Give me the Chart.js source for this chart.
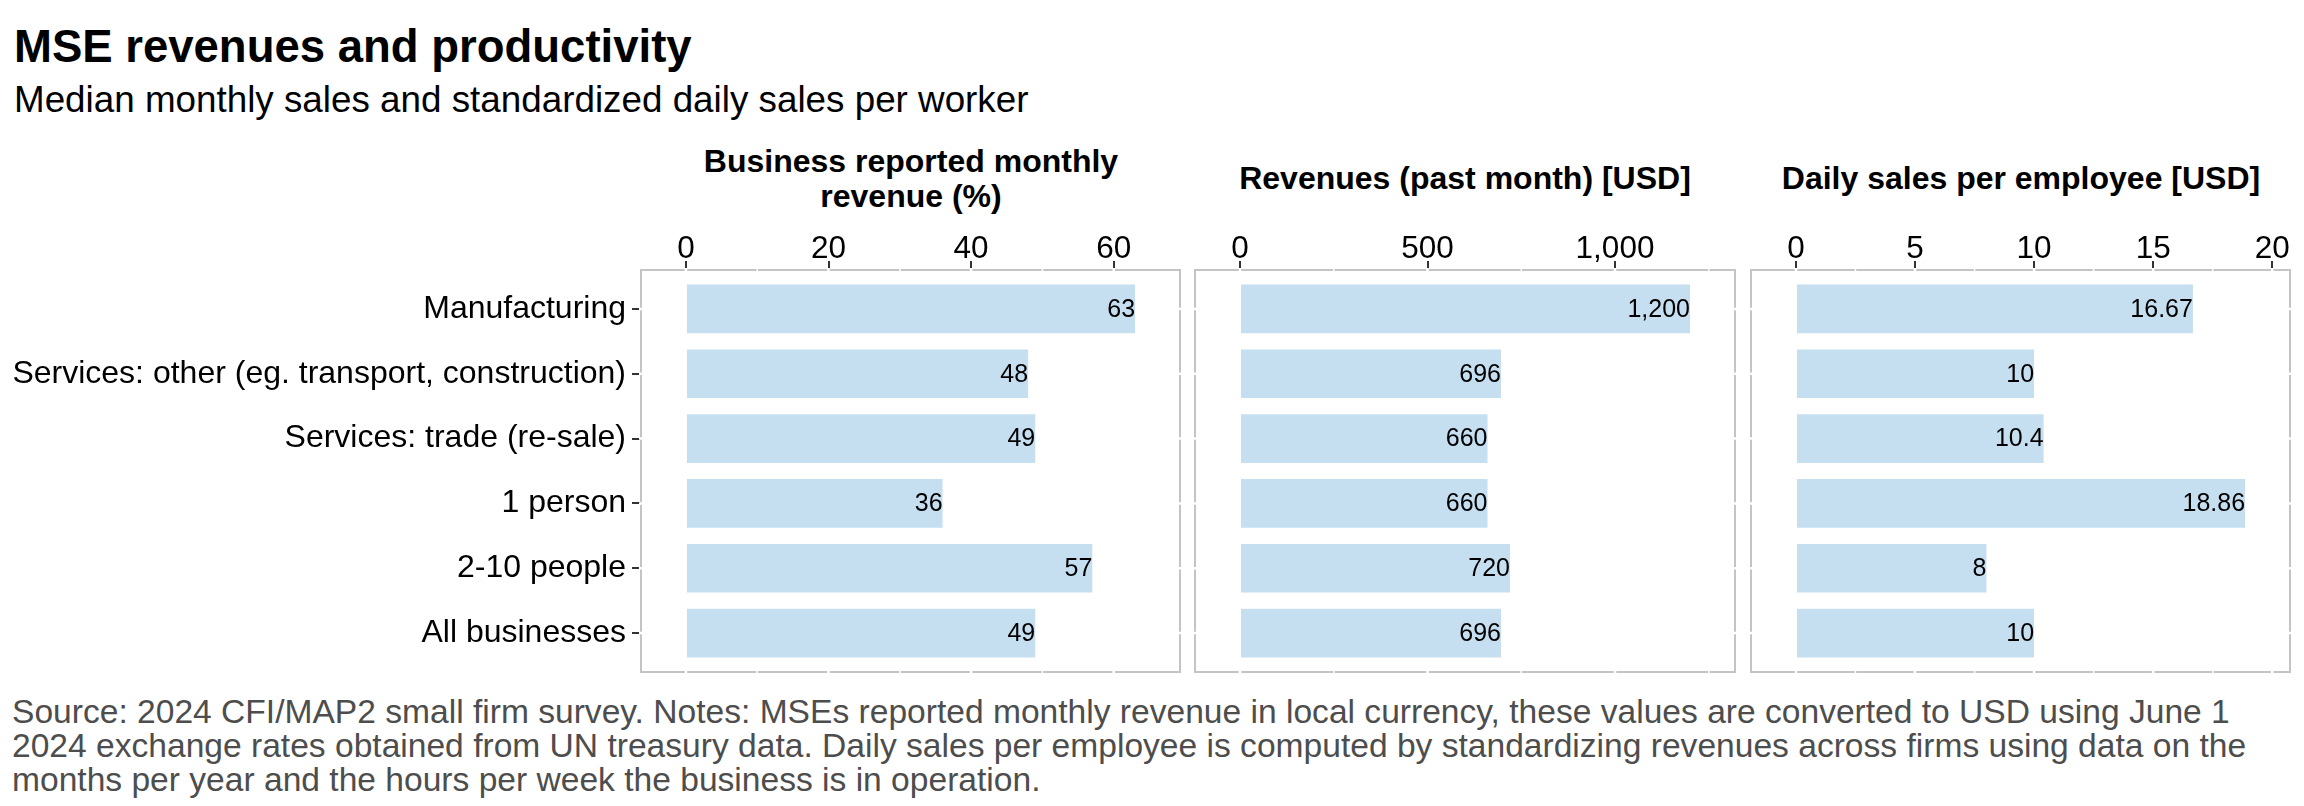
<!DOCTYPE html>
<html>
<head>
<meta charset="utf-8">
<script src="https://cdn.jsdelivr.net/npm/chart.js@4"></script>
<style>
  body { margin: 0; background: #fff; width: 2304px; height: 806px; position: relative; overflow: hidden;
         font-family: "Liberation Sans", Arial, sans-serif; }
  .txt { position: absolute; white-space: nowrap; line-height: 1; }
  #title { left: 14px; top: 24px; font-size: 45.5px; font-weight: bold; color: #000; }
  #subtitle { left: 14px; top: 82px; font-size: 36.8px; color: #000; }
  .facet { position: absolute; width: 540px; text-align: center; font-size: 32px; font-weight: bold;
           line-height: 35px; color: #000; }
  #source { left: 12px; top: 695px; font-size: 33.6px; line-height: 34px; color: #4d4d4d; white-space: normal; width: 2290px; }
  canvas { position: absolute; }
</style>
</head>
<body>
<div id="title" class="txt">MSE revenues and productivity</div>
<div id="subtitle" class="txt">Median monthly sales and standardized daily sales per worker</div>
<div class="facet" style="left:641px; top:144px;">Business reported monthly<br>revenue (%)</div>
<div class="facet" style="left:1195px; top:161px;">Revenues (past month) [USD]</div>
<div class="facet" style="left:1751px; top:161px;">Daily sales per employee [USD]</div>
<div id="source" class="txt">Source: 2024 CFI/MAP2 small firm survey. Notes: MSEs reported monthly revenue in local currency, these values are converted to USD using June 1<br>2024 exchange rates obtained from UN treasury data. Daily sales per employee is computed by standardizing revenues across firms using data on the<br>months per year and the hours per week the business is in operation.</div>

<canvas id="c1" width="1190" height="482" style="left:0px; top:200px;"></canvas>
<canvas id="c2" width="560" height="482" style="left:1185px; top:200px;"></canvas>
<canvas id="c3" width="559" height="482" style="left:1741px; top:200px;"></canvas>

<script>
var categories = [
  "Manufacturing",
  "Services: other (eg. transport, construction)",
  "Services: trade (re-sale)",
  "1 person",
  "2-10 people",
  "All businesses"
];
var reportedRevenuePct = [63, 48, 49, 36, 57, 49];
var revenuesUSD = [1200, 696, 660, 660, 720, 696];
var dailySalesPerEmployee = [16.67, 10, 10.4, 18.86, 8, 10];

var pctTicks = [0, 20, 40, 60];
var usdTicks = [0, 500, 1000];
var dailyTicks = [0, 5, 10, 15, 20];

var FONT = "'Liberation Sans', Arial, sans-serif";
var barColor = "#c6dff0";
var borderColor = "#c4c4c4";

function fmt(v) {
  return v.toLocaleString("en-US", { maximumFractionDigits: 2 });
}

// panel border with white grid "cuts", like the ggplot panel background
var panelPlugin = {
  id: "panel",
  beforeDatasetsDraw: function (chart) {
    var a = chart.chartArea, ctx = chart.ctx;
    ctx.save();
    ctx.strokeStyle = borderColor;
    ctx.lineWidth = 2;
    ctx.strokeRect(a.left, a.top, a.right - a.left, a.bottom - a.top);
    ctx.strokeStyle = "#fff";
    var xs = chart.scales.x, ys = chart.scales.y;
    var major = xs.ticks.map(function (t) { return t.value; });
    var step = major[1] - major[0];
    for (var v = major[0] - step / 2; v <= xs.max; v += step / 2) {
      if (v < xs.min) continue;
      var px = xs.getPixelForValue(v);
      var isMajor = Math.abs((v - major[0]) / step - Math.round((v - major[0]) / step)) < 1e-6;
      ctx.lineWidth = isMajor ? 2.5 : 1.5;
      ctx.beginPath();
      ctx.moveTo(px, a.top - 2); ctx.lineTo(px, a.top + 2);
      ctx.moveTo(px, a.bottom - 2); ctx.lineTo(px, a.bottom + 2);
      ctx.stroke();
    }
    ctx.lineWidth = 2.5;
    categories.forEach(function (c, i) {
      var py = ys.getPixelForValue(i + 1);
      ctx.beginPath();
      ctx.moveTo(a.left - 2, py); ctx.lineTo(a.left + 2, py);
      ctx.moveTo(a.right - 2, py); ctx.lineTo(a.right + 2, py);
      ctx.stroke();
    });
    ctx.restore();
  },
  afterDatasetsDraw: function (chart) {
    var ctx = chart.ctx;
    var meta = chart.getDatasetMeta(0);
    var vals = chart.data.datasets[0].data;
    ctx.save();
    ctx.fillStyle = "#000";
    ctx.font = "25px " + FONT;
    ctx.textAlign = "right";
    ctx.textBaseline = "middle";
    meta.data.forEach(function (bar, i) {
      ctx.fillText(fmt(vals[i].x), bar.x, bar.y + 1);
    });
    ctx.restore();
  }
};

function buildPanel(id, values, ticks, xmax, showLabels) {
  var ctx = document.getElementById(id).getContext("2d");
  var points = values.map(function (v, i) { return { x: v, y: i + 1 }; });
  var pad = xmax * 0.1;
  return new Chart(ctx, {
    type: "bar",
    data: {
      datasets: [{
        data: points,
        backgroundColor: barColor,
        borderWidth: 0,
        barPercentage: 0.75,
        categoryPercentage: 1
      }]
    },
    plugins: [panelPlugin],
    options: {
      indexAxis: "y",
      responsive: false,
      animation: false,
      devicePixelRatio: 1,
      layout: { padding: { left: 0, right: 10, top: 0, bottom: 10 } },
      plugins: { legend: { display: false }, tooltip: { enabled: false } },
      scales: {
        x: {
          type: "linear",
          position: "top",
          min: -pad,
          max: xmax + pad,
          afterBuildTicks: function (s) { s.ticks = ticks.map(function (v) { return { value: v }; }); },
          afterFit: function (s) { s.height = 70; s.paddingLeft = 0; s.paddingRight = 0; },
          border: { display: false },
          grid: { drawOnChartArea: false, tickLength: 9, tickColor: "#333", lineWidth: 2 },
          ticks: {
            color: "#000",
            padding: -7,
            maxRotation: 0,
            font: { family: FONT, size: 31.5 },
            callback: function (v) { return fmt(v); }
          }
        },
        y: {
          type: "linear",
          reverse: true,
          offset: false,
          min: 0.4,
          max: categories.length + 0.6,
          afterBuildTicks: function (s) { s.ticks = categories.map(function (c, i) { return { value: i + 1 }; }); },
          afterFit: function (s) { s.width = showLabels ? 641 : 10; s.paddingTop = 0; s.paddingBottom = 0; },
          border: { display: false },
          grid: { display: showLabels, offset: false, drawOnChartArea: false, tickLength: 9, tickColor: "#333", lineWidth: 2 },
          ticks: {
            display: showLabels,
            color: "#000",
            padding: 6,
            font: { family: FONT, size: 32 },
            callback: function (v) { return categories[v - 1]; }
          }
        }
      }
    }
  });
}

buildPanel("c1", reportedRevenuePct, pctTicks, 63, true);
buildPanel("c2", revenuesUSD, usdTicks, 1200, false);
buildPanel("c3", dailySalesPerEmployee, dailyTicks, 18.86, false);
</script>
</body>
</html>
